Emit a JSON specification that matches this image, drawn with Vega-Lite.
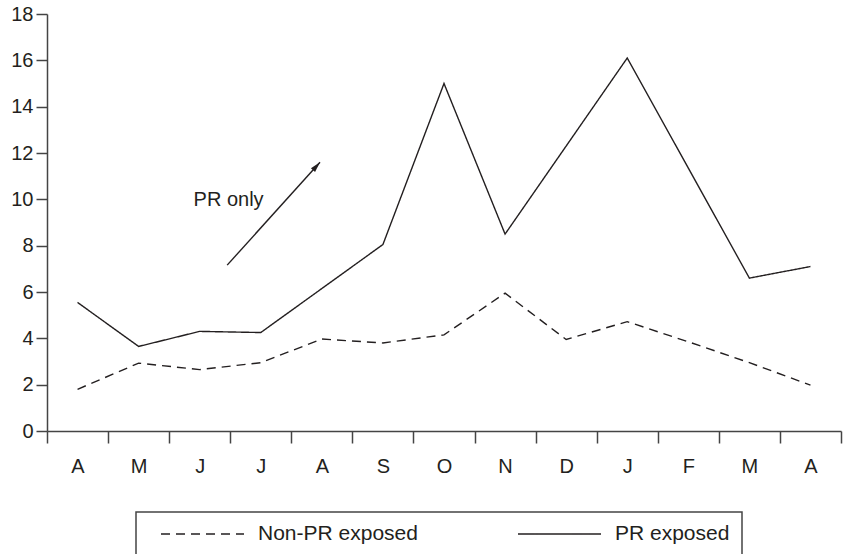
{
  "$schema": "https://vega.github.io/schema/vega-lite/v6.json",
  "width": 794,
  "height": 417,
  "autosize": {"type": "none"},
  "padding": {"left": 47, "top": 14, "right": 2, "bottom": 123},
  "background": "white",
  "config": {
    "view": {"stroke": null},
    "font": "Liberation Sans",
    "legend": {"strokeWidth": 1.5}
  },
  "datasets": {
    "series": [
      {"month": "Apr Y1", "series": "Non-PR exposed", "value": 1.8},
      {"month": "May", "series": "Non-PR exposed", "value": 2.93},
      {"month": "Jun", "series": "Non-PR exposed", "value": 2.65},
      {"month": "Jul", "series": "Non-PR exposed", "value": 2.95},
      {"month": "Aug", "series": "Non-PR exposed", "value": 3.97},
      {"month": "Sep", "series": "Non-PR exposed", "value": 3.8},
      {"month": "Oct", "series": "Non-PR exposed", "value": 4.15},
      {"month": "Nov", "series": "Non-PR exposed", "value": 5.95},
      {"month": "Dec", "series": "Non-PR exposed", "value": 3.95},
      {"month": "Jan", "series": "Non-PR exposed", "value": 4.72},
      {"month": "Feb", "series": "Non-PR exposed", "value": 3.85},
      {"month": "Mar", "series": "Non-PR exposed", "value": 2.95},
      {"month": "Apr Y2", "series": "Non-PR exposed", "value": 1.98},
      {"month": "Apr Y1", "series": "PR exposed", "value": 5.55},
      {"month": "May", "series": "PR exposed", "value": 3.65},
      {"month": "Jun", "series": "PR exposed", "value": 4.3},
      {"month": "Jul", "series": "PR exposed", "value": 4.25},
      {"month": "Aug", "series": "PR exposed", "value": 6.15},
      {"month": "Sep", "series": "PR exposed", "value": 8.05},
      {"month": "Oct", "series": "PR exposed", "value": 15.0},
      {"month": "Nov", "series": "PR exposed", "value": 8.5},
      {"month": "Dec", "series": "PR exposed", "value": 12.3},
      {"month": "Jan", "series": "PR exposed", "value": 16.1},
      {"month": "Feb", "series": "PR exposed", "value": 11.35},
      {"month": "Mar", "series": "PR exposed", "value": 6.6},
      {"month": "Apr Y2", "series": "PR exposed", "value": 7.1}
    ],
    "arrow": [{"x1": 2.95, "y1": 7.16, "x2": 4.47, "y2": 11.6}],
    "note": [{"x": 2.4, "y": 9.7, "text": "PR only"}]
  },
  "resolve": {"scale": {"x": "independent"}},
  "layer": [
    {
      "data": {"name": "series"},
      "mark": {"type": "line", "color": "#231f20", "strokeWidth": 1.4},
      "encoding": {
        "x": {
          "field": "month", "type": "nominal", "sort": null,
          "scale": {"paddingInner": 0, "paddingOuter": 0},
          "axis": {
            "title": null, "tickBand": "extent", "labelExpr": "substring(datum.label, 0, 1)",
            "labelAngle": 0, "labelFontSize": 20, "labelPadding": 13, "labelColor": "#231f20",
            "tickSize": 12, "tickWidth": 1.5, "tickColor": "#444", "domainColor": "#444", "domainWidth": 1.5, "grid": false
          }
        },
        "y": {
          "field": "value", "type": "quantitative",
          "scale": {"domain": [0, 18], "nice": false},
          "axis": {
            "title": null, "values": [0, 2, 4, 6, 8, 10, 12, 14, 16, 18],
            "labelFontSize": 20, "labelPadding": 3, "labelColor": "#231f20",
            "tickSize": 11, "tickWidth": 1.5, "tickColor": "#444", "domainColor": "#444", "domainWidth": 1.5, "grid": false
          }
        },
        "strokeDash": {
          "field": "series", "type": "nominal",
          "scale": {"domain": ["Non-PR exposed", "PR exposed"], "range": [[9, 6], [1, 0]]},
          "legend": {
            "orient": "none", "legendX": 89, "legendY": 498, "direction": "horizontal", "title": null,
            "symbolType": "stroke", "symbolSize": 6889, "symbolStrokeWidth": 1.5, "symbolStrokeColor": "#231f20",
            "labelFontSize": 21, "labelColor": "#231f20", "labelOffset": 13, "labelLimit": 400,
            "padding": 12, "symbolOffset": 12, "clipHeight": 20, "columnPadding": 87,
            "strokeColor": "#444", "cornerRadius": 0
          }
        }
      }
    },
    {
      "data": {"name": "arrow"},
      "mark": {"type": "rule", "color": "#231f20", "strokeWidth": 1.4},
      "encoding": {
        "x": {"field": "x1", "type": "quantitative", "scale": {"domain": [0, 13], "nice": false, "zero": false}, "axis": null},
        "y": {"field": "y1", "type": "quantitative", "scale": {"domain": [0, 18], "nice": false}},
        "x2": {"field": "x2"},
        "y2": {"field": "y2"}
      }
    },
    {
      "data": {"name": "arrow"},
      "mark": {"type": "point", "shape": "M0,0L0.4,1.5L-0.4,1.5Z", "size": 196, "angle": 42, "filled": true, "color": "#231f20", "opacity": 1},
      "encoding": {
        "x": {"field": "x2", "type": "quantitative", "scale": {"domain": [0, 13], "nice": false, "zero": false}, "axis": null},
        "y": {"field": "y2", "type": "quantitative", "scale": {"domain": [0, 18], "nice": false}}
      }
    },
    {
      "data": {"name": "note"},
      "mark": {"type": "text", "align": "left", "baseline": "alphabetic", "fontSize": 20, "color": "#231f20"},
      "encoding": {
        "x": {"field": "x", "type": "quantitative", "scale": {"domain": [0, 13], "nice": false, "zero": false}, "axis": null},
        "y": {"field": "y", "type": "quantitative", "scale": {"domain": [0, 18], "nice": false}},
        "text": {"field": "text"}
      }
    }
  ]
}
